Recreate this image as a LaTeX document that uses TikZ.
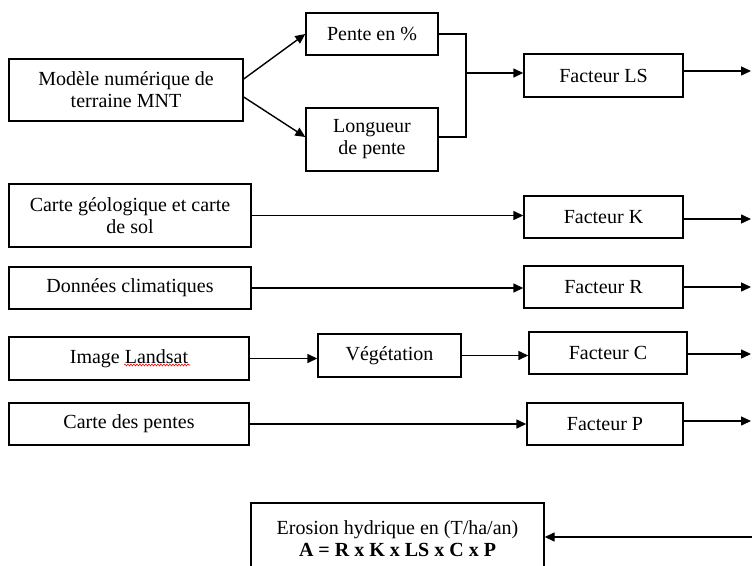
\documentclass[tikz,border=0pt]{standalone}
\usepackage{fontspec}
\setmainfont{Liberation Serif}
\usetikzlibrary{arrows.meta,calc,decorations.pathmorphing}
\begin{document}
\begin{tikzpicture}[x=1pt,y=-1pt,
  box/.style={draw, line width=1.4pt, align=center, inner sep=0pt,
    font=\fontsize{20}{22}\selectfont},
  conn/.style={line width=1.4pt, -{Triangle[length=10pt,width=9pt]}},
  plain/.style={line width=1.4pt},
  wavy/.style={draw=red, line width=0.6pt, decorate,
    decoration={snake, amplitude=0.9pt, segment length=3pt}}]
\clip (0,0) rectangle (752,565);
% nodes
\node[box, minimum width=234pt, minimum height=62pt] (mnt) at (126,90) {Modèle numérique de\\terraine MNT};
\node[box, minimum width=132pt, minimum height=42pt] (pente) at (372,34) {Pente en \%};
\node[box, minimum width=132pt, minimum height=63pt] (long) at (372,139.5) {Longueur\\de pente};
\node[box, minimum width=159pt, minimum height=43pt] (ls) at (603.5,75.5) {Facteur LS};
\node[box, minimum width=242pt, minimum height=63pt] (geo) at (130,215.5) {Carte géologique et carte\\de sol};
\node[box, minimum width=159pt, minimum height=42pt] (fk) at (603.5,217) {Facteur K};
\node[box, minimum width=242pt, minimum height=42pt] (clim) at (130,288) {Données climatiques};
\node[box, minimum width=159pt, minimum height=42pt] (fr) at (603.5,287) {Facteur R};
\node[box, minimum width=240pt, minimum height=43pt] (land) at (129,358.5) {Image Landsat};
\node[box, minimum width=143pt, minimum height=43pt] (veg) at (389.5,355.5) {Végétation};
\node[box, minimum width=158pt, minimum height=42pt] (fc) at (608,353) {Facteur C};
\node[box, minimum width=240pt, minimum height=42pt] (cp) at (129,424) {Carte des pentes};
\node[box, minimum width=156pt, minimum height=42pt] (fp) at (605,424) {Facteur P};
\node[box, minimum width=293pt, minimum height=72pt] (eros) at (397.5,539) {Erosion hydrique en (T/ha/an)\\\textbf{A = R x K x LS x C x P}};
% spell-check underline
\draw[wavy] (124,365) -- (190,365);
% free ends
\coordinate (bj) at (466,73);
\coordinate (o1) at (751,71);
\coordinate (o2) at (751,219);
\coordinate (o3) at (751,287);
\coordinate (o4) at (751,354);
\coordinate (o5) at (751,421);
\coordinate (i6) at (752,537);
% connectors
\draw[conn] ($(mnt.east)+(0,-11)$) -- (pente.west);
\draw[conn] ($(mnt.east)+(0,7)$) -- ($(long.west)+(0,-2.5)$);
\draw[plain] (pente.east) -- (pente.east -| bj) -- ($(long.east -| bj)+(0,-2.5)$) -- ($(long.east)+(0,-2.5)$);
\draw[conn] (bj) -- (bj -| ls.west);
\draw[conn] (ls.east |- o1) -- (o1);
\draw[conn] (geo.east) -- (geo.east -| fk.west);
\draw[conn] (fk.east |- o2) -- (o2);
\draw[conn] (clim.east) -- (clim.east -| fr.west);
\draw[conn] (fr.east |- o3) -- (o3);
\draw[conn] (land.east) -- (land.east -| veg.west);
\draw[conn] (veg.east) -- (veg.east -| fc.west);
\draw[conn] (fc.east |- o4) -- (o4);
\draw[conn] (cp.east) -- (cp.east -| fp.west);
\draw[conn] (fp.east |- o5) -- (o5);
\draw[conn] (i6) -- (i6 -| eros.east);
\end{tikzpicture}
\end{document}
